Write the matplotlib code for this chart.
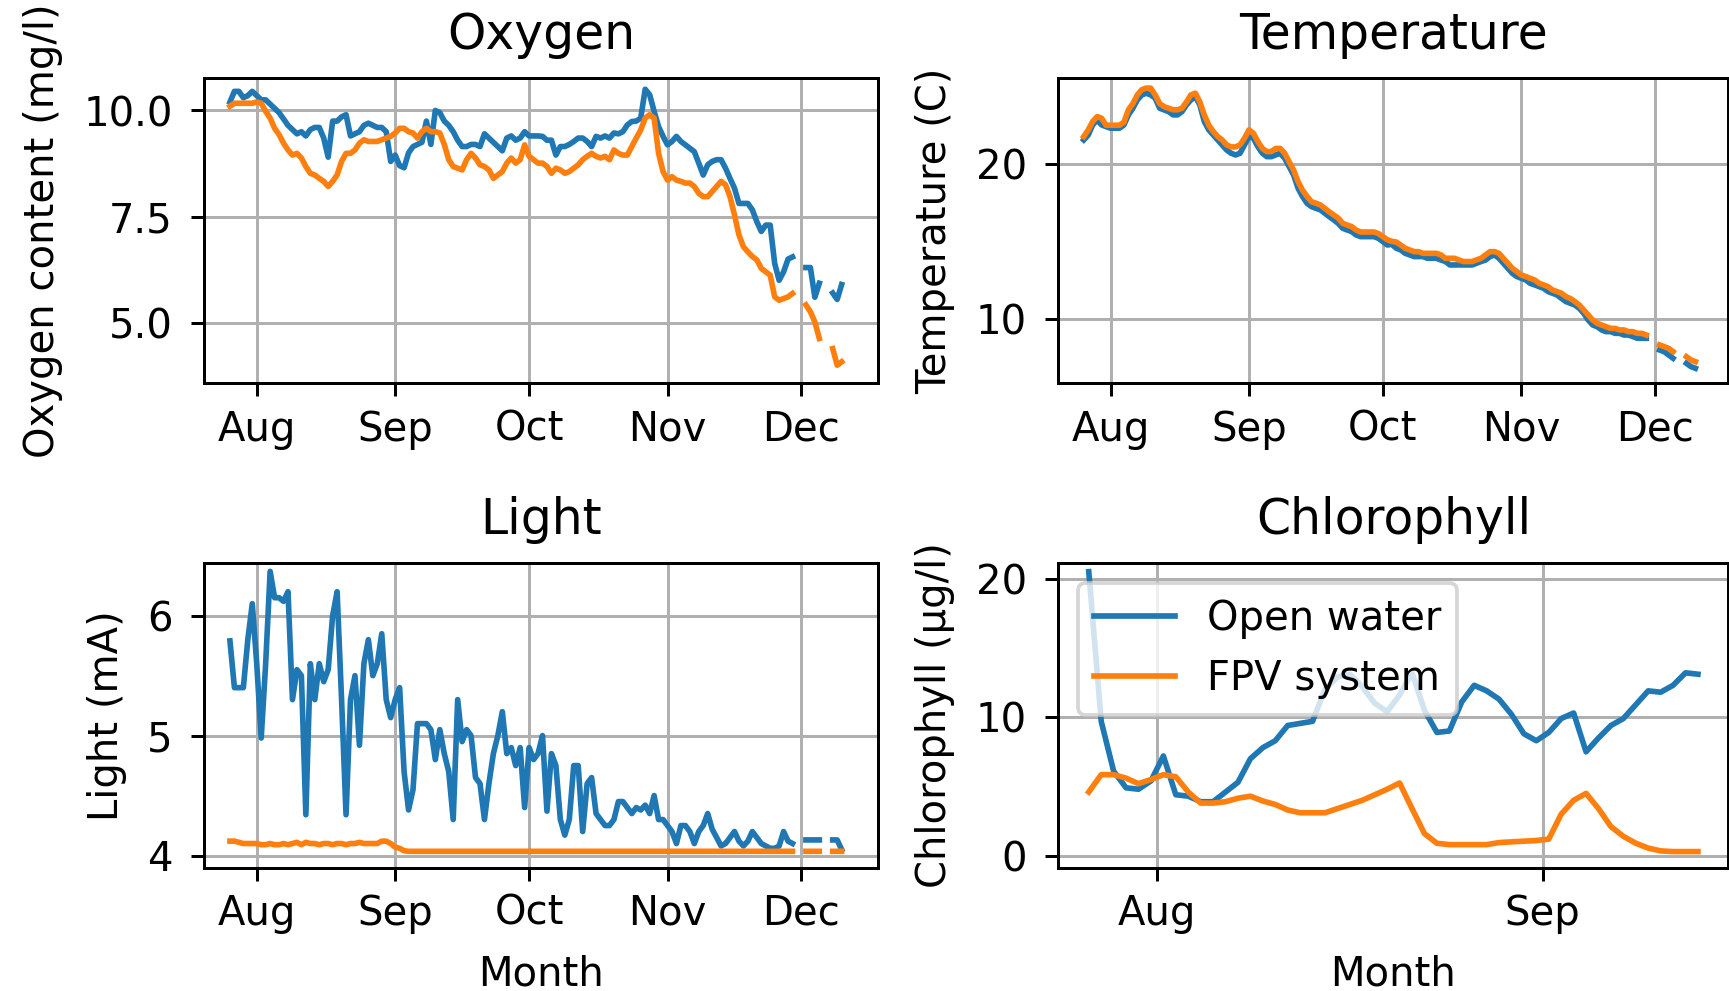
import numpy as np
import pandas as pd
import matplotlib
matplotlib.use("Agg")
import matplotlib.pyplot as plt
import matplotlib.dates as mdates

nan = np.nan

plt.rcParams["font.size"] = 10.7
plt.rcParams["ytick.major.pad"] = 4.8

# daily readings 26 Jul - 10 Dec (gaps where the loggers had no data)
days = pd.date_range("2021-07-26", "2021-12-10", freq="D")

oxygen_open = [
    10.2, 10.45, 10.45, 10.3, 10.35, 10.45, 10.35, 10.25, 10.25, 10.15,
    10.05, 9.95, 9.8, 9.65, 9.55, 9.45, 9.5, 9.4, 9.55, 9.6,
    9.6, 9.35, 8.9, 9.75, 9.75, 9.85, 9.9, 9.4, 9.45, 9.5,
    9.65, 9.7, 9.65, 9.6, 9.6, 9.5, 8.8, 8.95, 8.7, 8.65,
    9.0, 9.15, 9.2, 9.25, 9.75, 9.2, 10.0, 9.95, 9.75, 9.65,
    9.5, 9.3, 9.15, 9.15, 9.2, 9.2, 9.15, 9.45, 9.35, 9.25,
    9.15, 9.05, 9.35, 9.4, 9.3, 9.35, 9.5, 9.4, 9.4, 9.4,
    9.39, 9.3, 9.3, 8.95, 9.15, 9.15, 9.2, 9.27, 9.35, 9.35,
    9.27, 9.15, 9.39, 9.35, 9.4, 9.35, 9.47, 9.45, 9.5, 9.66,
    9.74, 9.75, 9.82, 10.5, 10.37, 9.98, 9.62, 9.39, 9.19, 9.27,
    9.39, 9.27, 9.19, 9.11, 9.03, 8.76, 8.48, 8.72, 8.8, 8.84,
    8.84, 8.64, 8.4, 8.17, 7.81, 7.81, 7.81, 7.66, 7.38, 7.15,
    7.3, 7.3, 6.4, 6.0, 6.2, 6.5, 6.55, nan, nan, 6.3,
    6.3, 5.6, 5.93, nan, nan, 5.7, 5.55, 5.9,
]
oxygen_fpv = [
    10.1, 10.17, 10.17, 10.17, 10.17, 10.17, 10.2, 10.17, 9.98, 9.82,
    9.58, 9.43, 9.23, 9.07, 8.95, 8.99, 8.88, 8.68, 8.52, 8.48,
    8.4, 8.33, 8.21, 8.33, 8.48, 8.8, 8.99, 8.99, 9.07, 9.23,
    9.31, 9.27, 9.27, 9.27, 9.31, 9.35, 9.39, 9.47, 9.58, 9.58,
    9.5, 9.47, 9.35, 9.5, 9.58, 9.5, 9.5, 9.47, 9.2, 8.84,
    8.68, 8.64, 8.6, 8.84, 8.99, 8.88, 8.72, 8.68, 8.6, 8.4,
    8.48, 8.56, 8.76, 8.88, 8.76, 8.84, 9.19, 8.92, 8.84, 8.76,
    8.76, 8.68, 8.52, 8.64, 8.6, 8.52, 8.56, 8.64, 8.72, 8.84,
    8.92, 8.99, 8.92, 8.88, 8.92, 8.84, 9.07, 8.99, 8.95, 8.95,
    9.15, 9.35, 9.54, 9.82, 9.9, 9.82, 8.99, 8.56, 8.36, 8.44,
    8.36, 8.33, 8.29, 8.29, 8.21, 8.05, 7.97, 7.97, 8.09, 8.21,
    8.33, 8.25, 7.97, 7.54, 7.07, 6.79, 6.67, 6.56, 6.48, 6.28,
    6.2, 6.12, 5.61, 5.53, 5.57, 5.61, 5.69, nan, nan, 5.42,
    5.26, 5.02, 4.63, nan, nan, 4.39, 4.0, 4.08,
]

temp_open = [
    21.55, 21.87, 22.52, 22.84, 22.52, 22.41, 22.31, 22.31, 22.31, 22.52,
    23.17, 23.6, 24.14, 24.46, 24.57, 24.46, 24.25, 23.6, 23.49, 23.38,
    23.17, 23.17, 23.38, 23.81, 24.14, 24.35, 23.81, 22.74, 22.2, 21.87,
    21.55, 21.23, 20.9, 20.69, 20.58, 20.69, 21.23, 21.77, 21.66, 21.12,
    20.69, 20.47, 20.47, 20.58, 20.69, 20.37, 19.83, 19.29, 18.43, 17.89,
    17.46, 17.24, 17.13, 17.03, 16.81, 16.59, 16.38, 16.16, 15.84, 15.73,
    15.63, 15.41, 15.3, 15.3, 15.3, 15.3, 15.19, 14.98, 14.76, 14.8,
    14.55, 14.44, 14.22, 14.12, 14.01, 14.01, 14.01, 13.9, 13.9, 13.9,
    13.79, 13.69, 13.47, 13.47, 13.47, 13.47, 13.47, 13.47, 13.58, 13.69,
    13.79, 14.01, 14.12, 13.9, 13.58, 13.25, 12.93, 12.72, 12.61, 12.5,
    12.28, 12.18, 12.07, 11.96, 11.75, 11.64, 11.53, 11.31, 11.1, 10.99,
    10.88, 10.67, 10.34, 9.91, 9.59, 9.48, 9.27, 9.16, 9.16, 9.05,
    9.05, 8.94, 8.94, 8.84, 8.73, 8.73, 8.73, nan, nan, 7.97,
    7.87, 7.65, 7.44, nan, nan, 7.11, 6.9, 6.79,
]
temp_fpv = [
    21.77, 22.2, 22.74, 23.06, 22.95, 22.5, 22.5, 22.5, 22.5, 22.7,
    23.5, 23.9, 24.46, 24.8, 24.9, 24.9, 24.46, 23.9, 23.7, 23.6,
    23.5, 23.5, 23.6, 24.0, 24.46, 24.57, 24.0, 23.17, 22.5, 22.1,
    21.77, 21.55, 21.23, 21.1, 21.1, 21.23, 21.66, 22.2, 21.98, 21.44,
    21.0, 20.8, 20.8, 21.0, 21.0, 20.69, 20.15, 19.6, 18.86, 18.3,
    17.9, 17.56, 17.46, 17.35, 17.13, 16.9, 16.7, 16.5, 16.16, 16.05,
    15.95, 15.73, 15.6, 15.6, 15.6, 15.6, 15.5, 15.3, 15.1, 15.0,
    14.95, 14.76, 14.55, 14.44, 14.33, 14.33, 14.22, 14.22, 14.22, 14.22,
    14.12, 13.9, 13.9, 13.9, 13.8, 13.69, 13.69, 13.69, 13.8, 13.9,
    14.12, 14.33, 14.33, 14.22, 13.9, 13.58, 13.25, 13.04, 12.82, 12.72,
    12.6, 12.5, 12.28, 12.18, 12.07, 11.85, 11.75, 11.64, 11.42, 11.3,
    11.1, 10.88, 10.56, 10.24, 9.91, 9.7, 9.59, 9.48, 9.37, 9.37,
    9.27, 9.27, 9.16, 9.16, 9.05, 9.05, 8.94, nan, nan, 8.3,
    8.19, 8.08, 7.87, nan, nan, 7.54, 7.33, 7.22,
]

light_open = [
    5.79, 5.4, 5.4, 5.4, 5.8, 6.1, 5.6, 4.98, 5.6, 6.37,
    6.15, 6.15, 6.12, 6.2, 5.3, 5.55, 5.5, 4.34, 5.6, 5.3,
    5.6, 5.45, 5.55, 6.0, 6.2, 5.3, 4.34, 5.3, 5.5, 4.92,
    5.6, 5.8, 5.5, 5.6, 5.85, 5.3, 5.15, 5.3, 5.4, 4.7,
    4.38, 4.55, 5.1, 5.1, 5.1, 5.05, 4.8, 5.05, 4.85, 4.7,
    4.3, 5.3, 4.95, 5.05, 5.0, 4.65, 4.6, 4.3, 4.6, 4.85,
    5.0, 5.2, 4.85, 4.9, 4.75, 4.9, 4.4, 4.9, 4.8, 4.85,
    5.0, 4.37, 4.85, 4.75, 4.3, 4.17, 4.3, 4.75, 4.75, 4.2,
    4.6, 4.65, 4.35, 4.3, 4.25, 4.25, 4.3, 4.45, 4.45, 4.4,
    4.35, 4.4, 4.38, 4.42, 4.35, 4.5, 4.3, 4.3, 4.25, 4.2,
    4.1, 4.25, 4.25, 4.2, 4.1, 4.2, 4.25, 4.35, 4.22, 4.15,
    4.08, 4.1, 4.15, 4.2, 4.12, 4.08, 4.12, 4.2, 4.15, 4.1,
    4.08, 4.06, 4.06, 4.08, 4.2, 4.12, 4.1, nan, nan, 4.13,
    4.13, 4.13, 4.13, nan, nan, 4.13, 4.13, 4.05,
]
light_fpv = [
    4.12, 4.12, 4.11, 4.1, 4.1, 4.1, 4.1, 4.09, 4.09, 4.1,
    4.09, 4.09, 4.1, 4.09, 4.1, 4.11, 4.09, 4.11, 4.1, 4.1,
    4.09, 4.1, 4.1, 4.09, 4.1, 4.1, 4.09, 4.1, 4.1, 4.11,
    4.1, 4.1, 4.1, 4.1, 4.12, 4.12, 4.1, 4.07, 4.06, 4.04,
    4.035, 4.035, 4.035, 4.035, 4.035, 4.035, 4.035, 4.035, 4.035, 4.035,
    4.035, 4.035, 4.035, 4.035, 4.035, 4.035, 4.035, 4.035, 4.035, 4.035,
    4.035, 4.035, 4.035, 4.035, 4.035, 4.035, 4.035, 4.035, 4.035, 4.035,
    4.035, 4.035, 4.035, 4.035, 4.035, 4.035, 4.035, 4.035, 4.035, 4.035,
    4.035, 4.035, 4.035, 4.035, 4.035, 4.035, 4.035, 4.035, 4.035, 4.035,
    4.035, 4.035, 4.035, 4.035, 4.035, 4.035, 4.035, 4.035, 4.035, 4.035,
    4.035, 4.035, 4.035, 4.035, 4.035, 4.035, 4.035, 4.035, 4.035, 4.035,
    4.035, 4.035, 4.035, 4.035, 4.035, 4.035, 4.035, 4.035, 4.035, 4.035,
    4.035, 4.035, 4.035, 4.035, 4.035, 4.035, 4.035, nan, nan, 4.035,
    4.035, 4.035, 4.035, nan, nan, 4.035, 4.035, 4.035,
]

# chlorophyll only has a shorter record (daily, noon)
chl_days = pd.date_range("2021-07-26 12:00", periods=50, freq="D")
chl_open = [
    20.5, 9.7, 6.1, 4.9, 4.8, 5.4, 7.2, 4.4, 4.3, 3.9,
    3.9, 4.6, 5.3, 7.0, 7.8, 8.3, 9.4, 9.55, 9.7, 12.0,
    12.9, 13.1, 12.2, 11.0, 10.4, 11.6, 13.2, 10.5, 8.9, 9.0,
    11.1, 12.3, 11.9, 11.3, 10.2, 8.8, 8.3, 8.9, 9.9, 10.3,
    7.5, 8.5, 9.4, 9.9, 10.9, 11.9, 11.8, 12.3, 13.2, 13.1,
]
chl_fpv = [
    4.6, 5.85, 5.85, 5.6, 5.2, 5.5, 5.85, 5.7, 4.6, 3.8,
    3.8, 3.9, 4.15, 4.3, 3.95, 3.7, 3.3, 3.1, 3.1, 3.1,
    3.4, 3.7, 4.0, 4.4, 4.8, 5.25, 3.4, 1.6, 0.9, 0.8,
    0.8, 0.8, 0.8, 0.95, 1.0, 1.05, 1.1, 1.2, 3.0, 4.0,
    4.5, 3.4, 2.1, 1.4, 0.9, 0.55, 0.35, 0.3, 0.3, 0.3,
]

for s in [oxygen_open, oxygen_fpv, temp_open, temp_fpv, light_open, light_fpv]:
    assert len(s) == len(days), len(s)
assert len(chl_open) == len(chl_days) == len(chl_fpv)

fig, axes = plt.subplots(2, 2, figsize=(6.4, 3.668), dpi=270.2)
ax_ox, ax_t = axes[0]
ax_l, ax_c = axes[1]

ax_ox.set_position([0.118, 0.613, 0.390, 0.308])
ax_t.set_position([0.612, 0.613, 0.3875, 0.308])
ax_l.set_position([0.118, 0.1246, 0.390, 0.3073])
ax_c.set_position([0.612, 0.1246, 0.3875, 0.3073])

aug1 = pd.Timestamp("2021-08-01")
dec1 = pd.Timestamp("2021-12-01")

ax_ox.plot(days, oxygen_open, label="Open water")
ax_ox.plot(days, oxygen_fpv, label="FPV system")
ax_ox.set_title("Oxygen", fontsize=13, pad=7.8)
ax_ox.set_ylabel("Oxygen content (mg/l)", labelpad=5.5)
ax_ox.set_yticks([5.0, 7.5, 10.0])
ax_ox.set_ylim(3.57, 10.76)
ax_ox.set_xlim(aug1 - pd.Timedelta(days=11.8), dec1 + pd.Timedelta(days=17.25))

ax_t.plot(days, temp_open, label="Open water")
ax_t.plot(days, temp_fpv, label="FPV system")
ax_t.set_title("Temperature", fontsize=13, pad=7.8)
ax_t.set_ylabel("Temperature (C)", labelpad=5.5)
ax_t.set_yticks([10, 20])
ax_t.set_ylim(5.81, 25.54)
ax_t.set_xlim(aug1 - pd.Timedelta(days=11.7), dec1 + pd.Timedelta(days=16.4))

ax_l.plot(days, light_open, label="Open water")
ax_l.plot(days, light_fpv, label="FPV system")
ax_l.set_title("Light", fontsize=13, pad=7.8)
ax_l.set_ylabel("Light (mA)", labelpad=5.5)
ax_l.set_xlabel("Month", labelpad=5.5)
ax_l.set_yticks([4, 5, 6])
ax_l.set_ylim(3.9, 6.44)
ax_l.set_xlim(aug1 - pd.Timedelta(days=11.8), dec1 + pd.Timedelta(days=17.25))

ax_c.plot(chl_days, chl_open, label="Open water")
ax_c.plot(chl_days, chl_fpv, label="FPV system")
ax_c.set_title("Chlorophyll", fontsize=13, pad=7.8)
ax_c.set_ylabel("Chlorophyll (µg/l)", labelpad=5.5)
ax_c.set_xlabel("Month", labelpad=5.5)
ax_c.set_yticks([0, 10, 20])
ax_c.set_ylim(-0.85, 21.13)
ax_c.legend(loc="upper left")

for ax in [ax_ox, ax_t, ax_l, ax_c]:
    ax.xaxis.set_major_locator(mdates.MonthLocator())
    ax.xaxis.set_major_formatter(mdates.DateFormatter("%b"))
    ax.grid(True)

fig.savefig("out.png", dpi=270.2)
